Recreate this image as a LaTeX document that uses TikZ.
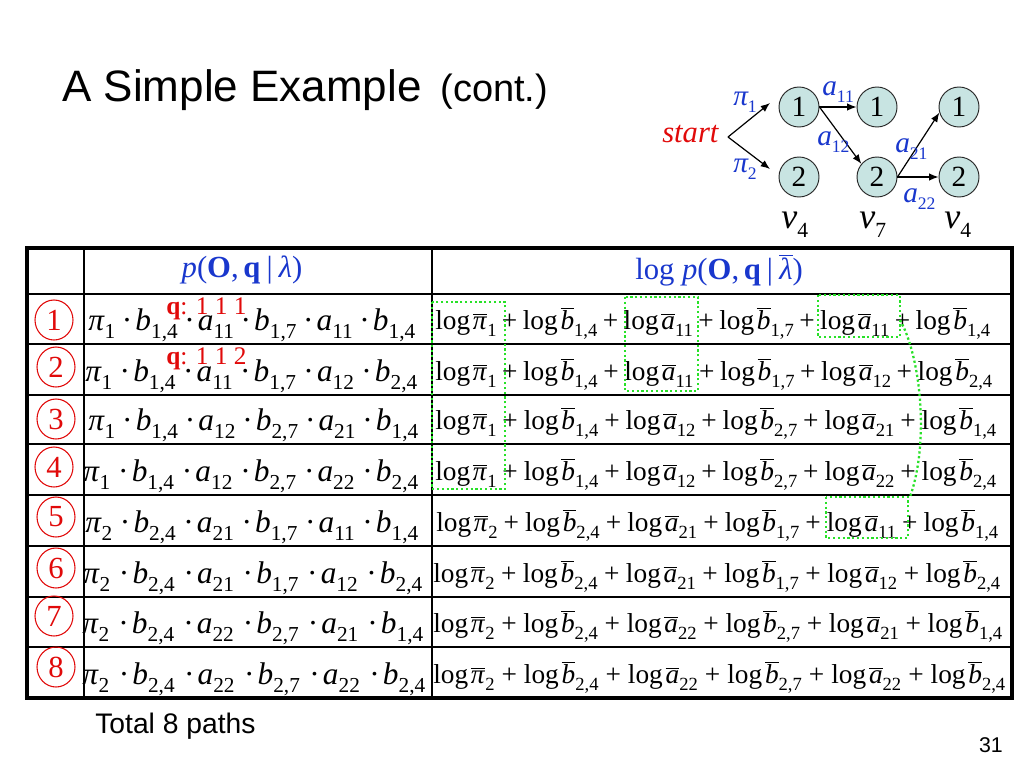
\documentclass[tikz,border=0pt]{standalone}
\usepackage{fontspec}
\setmainfont{Liberation Serif}
\newfontfamily\arialfont{Liberation Sans}
\usetikzlibrary{arrows.meta,shapes.geometric}
\definecolor{myblue}{RGB}{25,55,205}
\definecolor{myred}{RGB}{225,10,10}
\definecolor{mygreen}{RGB}{40,225,40}
\definecolor{nodefill}{RGB}{200,228,226}
\newlength\pxu
\setlength\pxu{0.75pt}
\makeatletter
\newcommand\sbx[1]{\raisebox{-0.27em}{\fontsize{\fpeval{0.68*\f@size}}{1}\selectfont\upshape #1}}
\newcommand\sbs[1]{\raisebox{-0.27em}{\fontsize{\fpeval{0.6*\f@size}}{1}\selectfont\upshape #1}}
\makeatother
\newcommand\ob[1]{\ensuremath{\overline{\mbox{#1}}}}
\newcommand\ipi{\textit{π}}
\newcommand\Lp[1]{log\hspace{0.1em}\ob{\ipi}\sbx{#1}}
\newcommand\La[1]{log\hspace{0.1em}\ob{\textit{a}}\sbx{#1}}
\newcommand\Lb[1]{log\hspace{0.1em}\ob{\textit{b}}\sbx{#1}}
\newcommand\Pp[1]{\ipi\sbx{#1}}
\newcommand\Pa[1]{\textit{a}\sbx{#1}}
\newcommand\Pb[1]{\textit{b}\sbx{#1}}
\newcommand\dt{ ·\hspace{0.1em}}
\newcommand\pl{ + }
\newcommand\LL[2]{\makebox[#1\pxu][s]{#2}}
\tikzset{
  cell/.style={inner sep=0pt, anchor=base west},
  lft/.style={cell, font=\fontsize{23.5}{27}\selectfont},
  rgt/.style={cell, font=\fontsize{20.5}{25}\selectfont},
  hdr/.style={inner sep=0pt, anchor=base, text=myblue, font=\fontsize{23}{27}\selectfont},
  num/.style={ellipse, draw=myred, line width=0.8pt, text=myred, inner sep=0pt,
    minimum width=38\pxu, minimum height=40\pxu, font=\fontsize{23}{27}\selectfont},
  qlab/.style={cell, text=myred, font=\fontsize{19}{22}\selectfont},
  gbox/.style={draw=mygreen, line width=1.7pt, dash pattern=on 1.7pt off 1.9pt},
  state/.style={circle, draw=black!85, line width=0.7pt, fill=nodefill, minimum size=40\pxu,
    inner sep=0pt, font=\fontsize{22}{26}\selectfont},
  arr/.style={-{Latex[length=7pt,width=5.5pt]}, line width=0.9pt},
  blab/.style={cell, text=myblue, font=\fontsize{22}{26}\selectfont\itshape},
  vlab/.style={cell, font=\fontsize{27}{30}\selectfont\itshape},
  thin/.style={line width=1.1pt},
}
\begin{document}
\begin{tikzpicture}[x=0.75pt,y=-0.75pt]
\useasboundingbox (0,0) rectangle (1024,768);
\fill[white] (0,0) rectangle (1024,768);
% title
\node[cell, font=\arialfont] (title) at (62,101)
  {\fontsize{33}{40}\selectfont A Simple Example\hspace{14pt}\fontsize{28.5}{32}\selectfont(cont.)};
% diagram
\node[state] (c11) at (799,107) {1};
\node[state] (c12) at (877,107) {1};
\node[state] (c13) at (959,107) {1};
\node[state] (c21) at (799,177) {2};
\node[state] (c22) at (877,177) {2};
\node[state] (c23) at (959,177) {2};
\coordinate (fork) at (728,137);
\coordinate (t1) at (770,103);
\coordinate (t2) at (770,169);
\draw[arr] (fork) -- (t1);
\draw[arr] (fork) -- (t2);
\draw[arr] (c11.east) -- (c12.west);
\draw[arr] (c11.east) -- (c22.140);
\draw[arr] (c22.east) -- (c13.196);
\draw[arr] (c22.east) -- (c23.west);
\node[cell, text=myred, font=\fontsize{23}{27}\selectfont\itshape] (start) at (662,142) {start};
\node[blab] (pi1) at (733,105) {π\sbs{1}};
\node[blab] (pi2) at (733,172) {π\sbs{2}};
\node[blab] (a11) at (822,95) {a\sbs{11}};
\node[blab] (a12) at (817,145) {a\sbs{12}};
\node[blab] (a21) at (895,152) {a\sbs{21}};
\node[blab] (a22) at (903,202) {a\sbs{22}};
\node[vlab] (v1) at (781,228) {v\sbs{4}};
\node[vlab] (v2) at (859,228) {v\sbs{7}};
\node[vlab] (v3) at (944,228) {v\sbs{4}};
% table
\draw[thin] (27,294) -- (1012,294);
\foreach \yy in {344,395,444,495,546,597,647} \draw[thin] (27,\yy) -- (1012,\yy);
\draw[thin] (84,248) -- (84,698);
\draw[thin] (432,248) -- (432,698);
\draw[line width=2.3pt] (27,248) rectangle (1012,698);
% headers
\node[hdr] (h1) at (242,277) {\textit{p}(\textbf{O},\hspace{0.15em}\textbf{q}\hspace{0.2em}|\hspace{0.2em}\textit{λ})};
\node[hdr] (h2) at (719,279) {log \textit{p}(\textbf{O},\hspace{0.15em}\textbf{q}\hspace{0.2em}|\hspace{0.2em}\ob{\textit{λ}})};
% numbers
\node[num] (n1) at (54,320) {1};
\node[num] (n2) at (56,367) {2};
\node[num] (n3) at (56,419) {3};
\node[num] (n4) at (54,467) {4};
\node[num] (n5) at (56,517) {5};
\node[num] (n6) at (56,568) {6};
\node[num] (n7) at (54,616) {7};
\node[num] (n8) at (56,667) {8};
% left column
\node[lft] (l1) at (88,330) {\LL{327}{\Pp{1}\dt\Pb{1,4}\dt\Pa{11}\dt\Pb{1,7}\dt\Pa{11}\dt\Pb{1,4}}};
\node[lft] (l2) at (85,381) {\LL{332}{\Pp{1}\dt\Pb{1,4}\dt\Pa{11}\dt\Pb{1,7}\dt\Pa{12}\dt\Pb{2,4}}};
\node[lft] (l3) at (88,430) {\LL{330}{\Pp{1}\dt\Pb{1,4}\dt\Pa{12}\dt\Pb{2,7}\dt\Pa{21}\dt\Pb{1,4}}};
\node[lft] (l4) at (83,481) {\LL{335}{\Pp{1}\dt\Pb{1,4}\dt\Pa{12}\dt\Pb{2,7}\dt\Pa{22}\dt\Pb{2,4}}};
\node[lft] (l5) at (85,532) {\LL{333}{\Pp{2}\dt\Pb{2,4}\dt\Pa{21}\dt\Pb{1,7}\dt\Pa{11}\dt\Pb{1,4}}};
\node[lft] (l6) at (83,583) {\LL{339}{\Pp{2}\dt\Pb{2,4}\dt\Pa{21}\dt\Pb{1,7}\dt\Pa{12}\dt\Pb{2,4}}};
\node[lft] (l7) at (82,633) {\LL{341}{\Pp{2}\dt\Pb{2,4}\dt\Pa{22}\dt\Pb{2,7}\dt\Pa{21}\dt\Pb{1,4}}};
\node[lft] (l8) at (82,684) {\LL{343}{\Pp{2}\dt\Pb{2,4}\dt\Pa{22}\dt\Pb{2,7}\dt\Pa{22}\dt\Pb{2,4}}};
% q labels
\node[qlab] (q1) at (166,314) {\textbf{q}: 1 1 1};
\node[qlab] (q2) at (166,364) {\textbf{q}: 1 1 2};
% right column
\node[rgt] (r1) at (435,329) {\LL{555}{\Lp{1}\pl\Lb{1,4}\pl\La{11}\pl\Lb{1,7}\pl\La{11}\pl\Lb{1,4}}};
\node[rgt] (r2) at (435,380) {\LL{557}{\Lp{1}\pl\Lb{1,4}\pl\La{11}\pl\Lb{1,7}\pl\La{12}\pl\Lb{2,4}}};
\node[rgt] (r3) at (435,429) {\LL{561}{\Lp{1}\pl\Lb{1,4}\pl\La{12}\pl\Lb{2,7}\pl\La{21}\pl\Lb{1,4}}};
\node[rgt] (r4) at (435,480) {\LL{561}{\Lp{1}\pl\Lb{1,4}\pl\La{12}\pl\Lb{2,7}\pl\La{22}\pl\Lb{2,4}}};
\node[rgt] (r5) at (436,531) {\LL{562}{\Lp{2}\pl\Lb{2,4}\pl\La{21}\pl\Lb{1,7}\pl\La{11}\pl\Lb{1,4}}};
\node[rgt] (r6) at (433,582) {\LL{567}{\Lp{2}\pl\Lb{2,4}\pl\La{21}\pl\Lb{1,7}\pl\La{12}\pl\Lb{2,4}}};
\node[rgt] (r7) at (433,632) {\LL{569}{\Lp{2}\pl\Lb{2,4}\pl\La{22}\pl\Lb{2,7}\pl\La{21}\pl\Lb{1,4}}};
\node[rgt] (r8) at (433,683) {\LL{572}{\Lp{2}\pl\Lb{2,4}\pl\La{22}\pl\Lb{2,7}\pl\La{22}\pl\Lb{2,4}}};
% green boxes
\draw[gbox] (432,302) rectangle (505,489);
\draw[gbox] (625,297) rectangle (698,391);
\draw[gbox] (818,295) rectangle (900,337);
\draw[gbox] (826,497) rectangle (908,538);
\draw[gbox] (900,320) .. controls (920,355) and (930,440) .. (910,497);
% footer
\node[cell, font=\arialfont\fontsize{21.2}{24}\selectfont] (total) at (95,733) {Total 8 paths};
\node[inner sep=0pt, anchor=base east, font=\arialfont\fontsize{16}{19}\selectfont] (page) at (1003,752) {31};
\end{tikzpicture}
\end{document}
